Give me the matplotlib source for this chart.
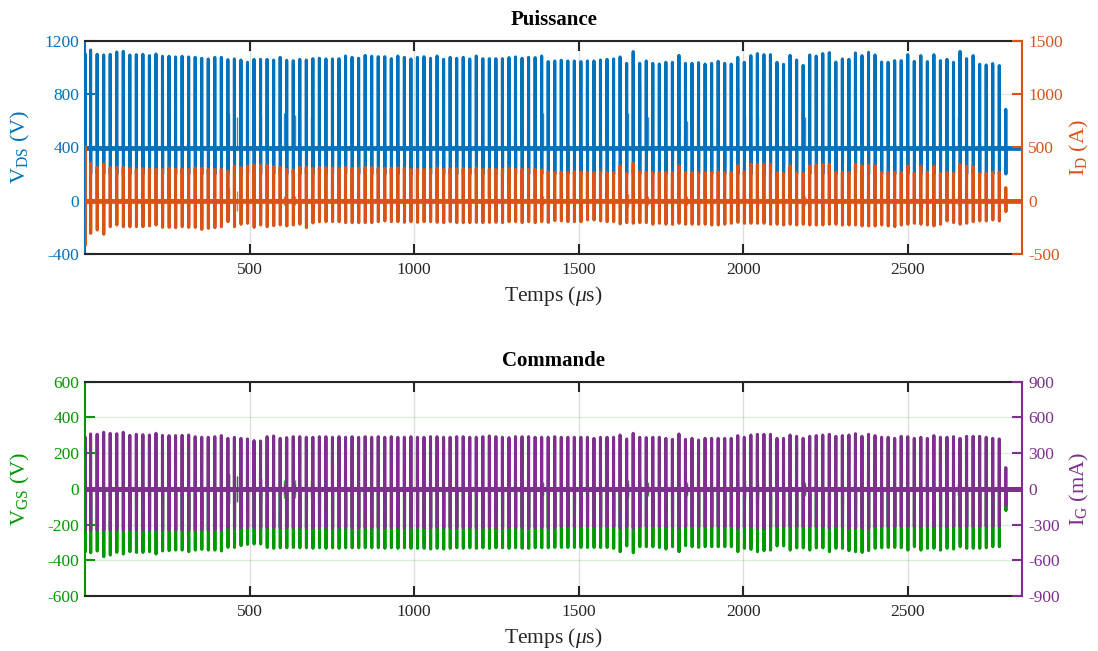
"""
Puissance / Commande : V_DS, I_D, V_GS, I_G relevés sur ~2.8 ms
(valeurs crête lues impulsion par impulsion sur la capture)
"""

# Imports
import numpy as np
import matplotlib.pyplot as plt

# Polices (style MATLAB / Palatino)
plt.rcParams['font.family'] = ['Liberation Serif', 'DejaVu Serif']
plt.rcParams['mathtext.fontset'] = 'custom'
plt.rcParams['mathtext.rm'] = 'Liberation Serif'
plt.rcParams['mathtext.it'] = 'Liberation Serif:italic'
plt.rcParams['axes.unicode_minus'] = False

# Couleurs
c_vds = '#0072BD'
c_id = '#D95319'
c_vgs = '#009900'
c_ig = '#7E2F8E'
c_txt = '#262626'

# Base de temps (µs)
t_end = 2848
t_start = 1        # impulsion de démarrage
t_first = 17       # première impulsion
period = 19.86     # ~50 kHz
n_pulses = 141     # 140 impulsions + la dernière (courte)
t_pulse = np.concatenate([[t_start], t_first + period * np.arange(n_pulses)])

# Niveaux de repos
vds_off = 395
id_off = 0
vgs_off = 0
ig_off = 0

# Crêtes de V_DS (V)
vds_peak = [
    1100,
    1130, 1098, 1093, 1098, 1115, 1120, 1093, 1095, 1098, 1088, 1100, 1083,
    1083, 1078, 1083, 1078, 1075, 1068, 1063, 1075, 1075, 1058, 1063, 1055,
    1038, 1060, 1060, 1060, 1055, 1075, 1053, 1050, 1060, 1055, 1065, 1068,
    1063, 1063, 1065, 1085, 1075, 1068, 1090, 1083, 1080, 1080, 1065, 1085,
    1075, 1063, 1075, 1080, 1068, 1085, 1060, 1075, 1068, 1075, 1063, 1085,
    1065, 1065, 1065, 1065, 1073, 1078, 1068, 1075, 1073, 1085, 1043, 1048,
    1053, 1048, 1048, 1043, 1048, 1048, 1055, 1060, 1063, 1078, 1030, 1118,
    1030, 1048, 1030, 1025, 1038, 1038, 1090, 1030, 1030, 1035, 1025, 1030,
    1045,
    1030, 1025, 1075, 1038, 1088, 1103, 1095, 1095, 1038, 1023, 1090, 1055,
    1015, 1093, 1085, 1103, 1110, 1040, 1063, 1060, 1108, 1088, 1113, 1093,
    1040, 1038, 1050, 1050, 1095, 1045, 1088, 1043, 1095, 1050, 1060, 1038,
    1120, 1065, 1088, 1023, 1018, 1028, 1013,
    685]
vds_low = 200

# Crêtes haute / basse de I_D (A)
id_top = [
    506,
    350, 313, 344, 310, 313, 313, 304, 291, 300, 297, 297, 294,
    304, 294, 297, 294, 304, 304, 294, 294, 294, 279, 325, 313,
    325, 335, 335, 328, 319, 313, 294, 288, 313, 313, 304, 310,
    310, 304, 304, 313, 304, 304, 313, 313, 304, 304, 304, 310,
    304, 294, 294, 294, 294, 304, 294, 300, 300, 300, 294, 304,
    294, 294, 294, 294, 304, 294, 294, 294, 294, 288, 269, 263,
    266, 266, 272, 272, 266, 263, 266, 263, 263, 325, 257, 350,
    272, 266, 263, 263, 266, 263, 325, 263, 263, 263, 263, 263,
    269,
    263, 263, 328, 272, 344, 341, 341, 341, 263, 257, 328, 263,
    257, 328, 335, 341, 341, 266, 266, 266, 344, 328, 335, 328,
    266, 266, 266, 263, 325, 257, 325, 266, 325, 257, 266, 257,
    341, 325, 319, 257, 257, 266, 266,
    122]
id_bot = [
    -415,
    -306, -275, -315, -244, -228, -244, -244, -244, -244, -237, -228, -250,
    -250, -253, -244, -250, -250, -269, -259, -253, -244, -197, -244, -221,
    -212, -250, -228, -244, -234, -228, -237, -228, -221, -253, -209, -197,
    -197, -197, -197, -206, -206, -206, -206, -206, -197, -190, -197, -197,
    -203, -197, -203, -197, -197, -203, -206, -197, -206, -206, -206, -203,
    -206, -203, -203, -206, -197, -197, -206, -197, -206, -197, -203, -187,
    -190, -197, -197, -197, -181, -181, -190, -197, -197, -218, -206, -212,
    -206, -206, -221, -212, -221, -221, -212, -221, -221, -221, -221, -228,
    -228,
    -221, -212, -203, -212, -212, -212, -212, -221, -221, -228, -221, -228,
    -221, -228, -228, -228, -221, -221, -228, -228, -228, -237, -237, -237,
    -228, -237, -244, -228, -221, -212, -221, -228, -237, -221, -190, -206,
    -221, -212, -197, -190, -190, -181, -190,
    -103]

# Crêtes de I_G (mA)
ig_top = [
    433,
    461, 458, 475, 466, 463, 475, 449, 458, 455, 452, 466, 449,
    447, 447, 449, 452, 438, 433, 433, 438, 447, 424, 433, 424,
    419, 405, 402, 438, 444, 424, 430, 438, 438, 433, 433, 438,
    438, 433, 438, 433, 438, 433, 438, 433, 438, 433, 438, 433,
    433, 438, 433, 433, 438, 438, 433, 433, 438, 438, 433, 433,
    438, 444, 438, 433, 430, 438, 438, 438, 433, 433, 433, 438,
    433, 433, 433, 433, 433, 424, 433, 433, 433, 452, 419, 466,
    433, 430, 433, 433, 424, 416, 461, 416, 424, 410, 424, 424,
    424, 424, 424, 447, 433, 452, 458, 458, 458, 424, 424, 452,
    441, 424, 441, 447, 452, 458, 441, 447, 452, 463, 441, 458,
    447, 433, 433, 424, 441, 438, 424, 433, 424, 447, 433, 433,
    438, 424, 441, 441, 441, 433, 424, 419,
    178]
ig_bot = [
    -346,
    -346, -346, -346, -346, -346, -346, -346, -346, -346, -346, -346, -346,
    -346, -346, -346, -346, -346, -346, -346, -346, -346, -326, -326, -326,
    -326, -326, -326, -326, -326, -326, -326, -326, -326, -326, -326, -326,
    -326, -326, -326, -326, -326, -326, -326, -326, -326, -326, -326, -326,
    -326, -326, -326, -326, -326, -326, -326, -326, -326, -326, -326, -326,
    -326, -326, -326, -326, -326, -326, -326, -326, -326, -326, -326, -326,
    -318, -318, -318, -318, -318, -318, -318, -318, -318, -330, -318, -330,
    -318, -318, -318, -318, -318, -318, -330, -318, -318, -318, -318, -318,
    -318, -318, -318, -330, -318, -318, -330, -330, -318, -318, -318, -318,
    -318, -318, -318, -318, -318, -330, -318, -318, -330, -330, -330, -330,
    -318, -318, -318, -318, -318, -318, -318, -318, -318, -318, -318, -318,
    -318, -318, -318, -318, -318, -318, -318, -318,
    -136]

# Creux de V_GS (V)
vgs_bot = [
    -352,
    -358, -348, -380, -371, -356, -365, -352, -356, -356, -352, -365, -348,
    -346, -343, -343, -352, -343, -339, -343, -343, -348, -328, -328, -318,
    -311, -309, -309, -328, -333, -330, -330, -328, -330, -330, -333, -330,
    -333, -330, -333, -330, -330, -330, -330, -330, -330, -333, -330, -333,
    -330, -333, -333, -333, -337, -333, -337, -333, -330, -333, -330, -333,
    -330, -333, -330, -330, -333, -330, -333, -333, -330, -330, -330, -328,
    -328, -328, -328, -328, -328, -328, -328, -328, -333, -352, -320, -358,
    -324, -324, -324, -328, -337, -324, -352, -318, -324, -328, -324, -324,
    -324, -324, -324, -352, -333, -339, -352, -346, -343, -320, -320, -343,
    -331, -331, -343, -331, -331, -352, -333, -333, -346, -352, -356, -346,
    -333, -330, -328, -328, -330, -343, -324, -343, -333, -333, -343, -333,
    -337, -324, -333, -333, -333, -330, -324, -324,
    -122]

# Oscillations parasites (µs, amplitudes)
ring_t = [436, 462, 535, 606, 637, 687, 728, 1391, 1649, 1685, 1710, 1829,
          1983, 2006, 2046, 2186, 2400, 2652]
ring_vds = [655, 630, 640, 655, 640, 630, 640, 655, 655, 870, 630, 600,
            830, 640, 640, 630, 560, 630]
ring_id = [115, 95, 70, 40, 40, 40, 40, 40, 60, 90, 40, 40, 80, 50, 50, 40, 30, 40]
ring_vgs = [75, 70, 60, 50, 50, 50, 50, 40, 50, 60, 40, 40, 60, 50, 50, 40, 30, 40]
ring_ig = [130, 110, 80, 40, 40, 40, 40, 40, 50, 60, 40, 40, 60, 40, 40, 40, 30, 40]


def forme(t, base, hauts, bas, w=0.35):
    # une impulsion = repos -> crête haute -> crête basse -> repos
    x = [0.0]
    y = [base]
    for ti, h, b in zip(t, hauts, bas):
        x += [ti - w, ti, ti + w, ti + 2 * w]
        y += [base, h, b, base]
    x.append(t_end)
    y.append(base)
    return x, y


def habillage(ax, axr, cl, cr, yl, ytl, yr, ytr, lab_l, lab_r, titre):
    ax.set_xlim(0, t_end)
    ax.set_xticks([500, 1000, 1500, 2000, 2500])
    ax.set_ylim(yl)
    ax.set_yticks(ytl)
    axr.set_ylim(yr)
    axr.set_yticks(ytr)
    ax.tick_params(axis='x', direction='in', length=7, width=1.5, top=True,
                   colors=c_txt, labelsize=12.5, pad=6)
    ax.tick_params(axis='y', direction='in', length=7, width=1.5, right=False,
                   colors=cl, labelsize=12.5, pad=4)
    axr.tick_params(axis='y', direction='in', length=7, width=1.5, left=False,
                    colors=cr, labelsize=12.5, pad=4)
    for s in ['top', 'bottom']:
        ax.spines[s].set_color(c_txt)
        ax.spines[s].set_linewidth(1.5)
    ax.spines['left'].set_color(cl)
    ax.spines['left'].set_linewidth(1.5)
    ax.spines['right'].set_visible(False)
    axr.spines['right'].set_color(cr)
    axr.spines['right'].set_linewidth(1.5)
    for s in ['top', 'bottom', 'left']:
        axr.spines[s].set_visible(False)
    ax.grid(True, axis='x', color=c_txt, alpha=0.15, lw=1)
    ax.grid(True, axis='y', color=cl, alpha=0.15, lw=1)
    ax.set_axisbelow(True)
    ax.set_ylabel(lab_l, color=cl, fontsize=16)
    ax.yaxis.set_label_coords(-0.056, 0.5)
    axr.set_ylabel(lab_r, color=cr, fontsize=16, rotation=90)
    axr.yaxis.set_label_coords(1.049, 0.5)
    ax.set_xlabel(r'Temps ($\mu$s)', color=c_txt, fontsize=15.5)
    ax.xaxis.set_label_coords(0.5, -0.14)
    ax.set_title(titre, fontsize=15, fontweight='bold', color='black', pad=11)


# Affichage :
fig = plt.figure(figsize=(10.98, 6.51), dpi=100)
ax1 = fig.add_axes([0.0774, 0.6098, 0.8538, 0.3277])
ax1r = ax1.twinx()
ax2 = fig.add_axes([0.0774, 0.0845, 0.8538, 0.3292])
ax2r = ax2.twinx()

lw_p = 2.2   # largeur des impulsions
lw_b = 3.4   # largeur du niveau de repos

# Puissance
x, y = forme(t_pulse, vds_off, vds_peak, [vds_low] * len(vds_peak))
ax1.plot(x, y, color=c_vds, lw=lw_p)
ax1.plot([0, t_end], [vds_off, vds_off], color=c_vds, lw=lw_b)
ax1.vlines(ring_t, vds_off, ring_vds, color=c_vds, lw=1.0, alpha=0.8)
x, y = forme(t_pulse, id_off, id_top, id_bot)
ax1r.plot(x, y, color=c_id, lw=lw_p)
ax1r.plot([0, t_end], [id_off, id_off], color=c_id, lw=lw_b)
ax1r.vlines(ring_t, -np.array(ring_id), ring_id, color=c_id, lw=1.0, alpha=0.8)

habillage(ax1, ax1r, c_vds, c_id, (-400, 1200), [-400, 0, 400, 800, 1200],
          (-500, 1500), [-500, 0, 500, 1000, 1500],
          r'V$_{\rm DS}$ (V)', r'I$_{\rm D}$ (A)', 'Puissance')

# Commande
x, y = forme(t_pulse, vgs_off, [vgs_off] * len(vgs_bot), vgs_bot)
ax2.plot(x, y, color=c_vgs, lw=lw_p)
ax2.plot([0, t_end], [vgs_off, vgs_off], color=c_vgs, lw=lw_b)
ax2.vlines(ring_t, -np.array(ring_vgs), ring_vgs, color=c_vgs, lw=1.0, alpha=0.8)
x, y = forme(t_pulse, ig_off, ig_top, ig_bot)
ax2r.plot(x, y, color=c_ig, lw=lw_p)
ax2r.plot([0, t_end], [ig_off, ig_off], color=c_ig, lw=lw_b)
ax2r.vlines(ring_t, -np.array(ring_ig), ring_ig, color=c_ig, lw=1.0, alpha=0.8)

habillage(ax2, ax2r, c_vgs, c_ig, (-600, 600), [-600, -400, -200, 0, 200, 400, 600],
          (-900, 900), [-900, -600, -300, 0, 300, 600, 900],
          r'V$_{\rm GS}$ (V)', r'I$_{\rm G}$ (mA)', 'Commande')

plt.savefig('out.png', dpi=100)
